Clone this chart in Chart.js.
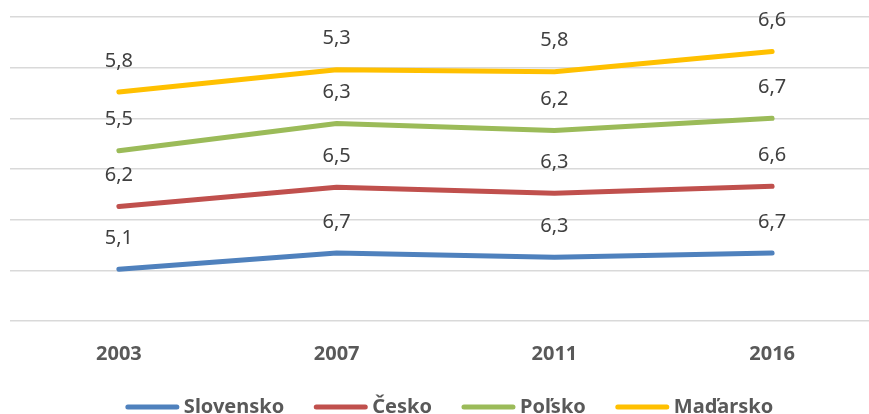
<!DOCTYPE html>
<html>
<head>
<meta charset="utf-8">
<script src="https://cdn.jsdelivr.net/npm/chart.js@4/dist/chart.umd.min.js"></script>
<style>
  body { margin: 0; overflow: hidden; background: #fff; }
  #wrap { width: 890px; height: 428px; }
</style>
</head>
<body>
<div id="wrap"><canvas id="myChart"></canvas></div>
<script>
// data
var years = ['2003', '2007', '2011', '2016'];
var slovensko = [5.1, 6.7, 6.3, 6.7];
var cesko = [6.2, 6.5, 6.3, 6.6];
var polsko = [5.5, 6.3, 6.2, 6.7];
var madarsko = [5.8, 5.3, 5.8, 6.6];

var seriesNames = ['Slovensko', 'Česko', 'Poľsko', 'Maďarsko'];
var seriesColors = ['#4f81bd', '#c0504d', '#9bbb59', '#ffc000'];
var seriesData = [slovensko, cesko, polsko, madarsko];

var labelFont = '20px "Noto Sans"';
var boldFont = 'bold 20px "Noto Sans"';

// gridlines start a bit in from the left edge
var gridTrim = {
    id: 'gridTrim',
    beforeDatasetsDraw: function(chart) {
        var ctx = chart.ctx;
        ctx.save();
        ctx.fillStyle = '#fff';
        ctx.fillRect(0, 0, 10, chart.chartArea.bottom + 2);
        ctx.restore();
    }
};

// values drawn above each point
var valueLabels = {
    id: 'valueLabels',
    afterDatasetsDraw: function(chart) {
        var ctx = chart.ctx;
        ctx.save();
        ctx.font = labelFont;
        ctx.fillStyle = '#404040';
        ctx.textAlign = 'center';
        ctx.textBaseline = 'middle';
        chart.data.datasets.forEach(function(ds, i) {
            var meta = chart.getDatasetMeta(i);
            meta.data.forEach(function(pt, j) {
                var txt = ds.data[j].toFixed(1).replace('.', ',');
                ctx.fillText(txt, pt.x, pt.y - 31);
            });
        });
        ctx.restore();
    }
};

// legend at the bottom, line markers like excel
var bottomLegend = {
    id: 'bottomLegend',
    afterDraw: function(chart) {
        var ctx = chart.ctx;
        var markW = 55, gap = 4, itemGap = 29, y = 407, centerX = 449;
        ctx.save();
        ctx.font = boldFont;
        var total = 0;
        var widths = chart.data.datasets.map(function(ds) {
            var w = markW + gap + ctx.measureText(ds.label).width;
            total += w;
            return w;
        });
        total += itemGap * (widths.length - 1);
        var x = centerX - total / 2;
        chart.data.datasets.forEach(function(ds, i) {
            ctx.strokeStyle = ds.borderColor;
            ctx.lineWidth = 5;
            ctx.lineCap = 'round';
            ctx.beginPath();
            ctx.moveTo(x + 3, y);
            ctx.lineTo(x + markW - 3, y);
            ctx.stroke();
            ctx.fillStyle = '#595959';
            ctx.textAlign = 'left';
            ctx.textBaseline = 'middle';
            ctx.fillText(ds.label, x + markW + gap, y);
            x += widths[i] + itemGap;
        });
        ctx.restore();
    }
};

var ctx = document.getElementById('myChart').getContext('2d');
var chart = new Chart(ctx, {
    type: 'line',
    data: {
        labels: years,
        datasets: seriesData.map(function(d, i) {
            return {
                label: seriesNames[i],
                data: d,
                borderColor: seriesColors[i],
                backgroundColor: seriesColors[i],
                borderWidth: 5,
                borderCapStyle: 'round',
                borderJoinStyle: 'round',
                pointRadius: 0,
                fill: false,
                tension: 0
            };
        })
    },
    options: {
        responsive: true,
        maintainAspectRatio: false,
        animation: false,
        layout: { padding: { top: 17, left: 2, right: 9, bottom: 49 } },
        plugins: {
            tooltip: { enabled: false },
            legend: { display: false }
        },
        scales: {
            x: {
                offset: true,
                grid: { display: false },
                border: { display: false },
                ticks: {
                    color: '#595959',
                    padding: 13,
                    font: { family: 'Noto Sans', size: 20, weight: 'bold' }
                }
            },
            y: {
                stacked: true,
                min: 0,
                max: 30,
                grid: { color: '#d9d9d9', lineWidth: 1.5 },
                border: { display: false },
                ticks: { display: false, stepSize: 5 }
            }
        }
    },
    plugins: [gridTrim, valueLabels, bottomLegend]
});
</script>
</body>
</html>
